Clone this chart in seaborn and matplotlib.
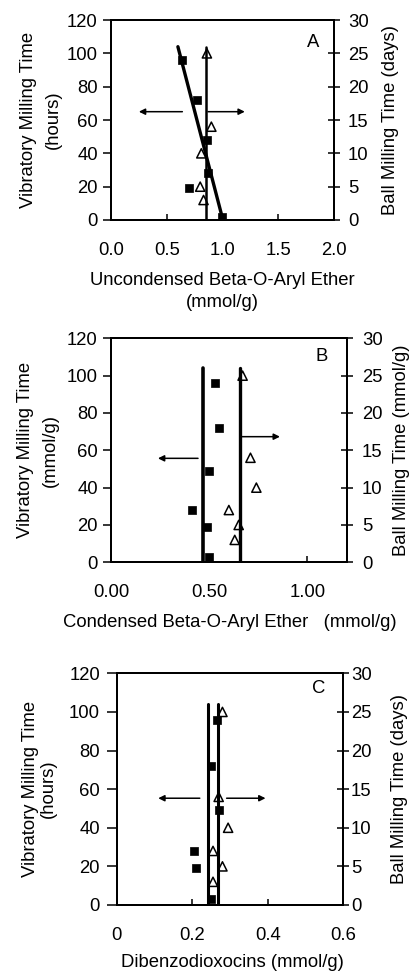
import numpy as np
import pandas as pd
import matplotlib
matplotlib.use("Agg")
import matplotlib.pyplot as plt
import seaborn as sns

sns.set_theme(style="white")
plt.rcParams['font.family'] = ['Liberation Sans', 'DejaVu Sans']

# ---------------- data ----------------
# Panel A: uncondensed beta-O-aryl ether
a_vib_x = [0.64, 0.77, 0.86, 0.87, 0.70, 1.00]
a_vib_hours = [96, 72, 48, 28, 19, 2]
a_ball_x = [0.86, 0.90, 0.81, 0.80, 0.83]
a_ball_days = [25, 14, 10, 5, 3]
a_vib_line_x = [0.60, 1.00]
a_vib_line_hours = [104, 1]
a_ball_line_x = [0.855, 0.855]
a_ball_line_hours = [0, 104]

# Panel B: condensed beta-O-aryl ether
b_vib_x = [0.53, 0.55, 0.50, 0.41, 0.49, 0.50]
b_vib_hours = [96, 72, 49, 28, 19, 3]
b_ball_x = [0.67, 0.71, 0.74, 0.60, 0.65, 0.63]
b_ball_days = [25, 14, 10, 7, 5, 3]
b_vib_line_x = [0.468, 0.468]
b_vib_line_hours = [0, 104]
b_ball_line_x = [0.659, 0.659]
b_ball_line_hours = [0, 104]

# Panel C: dibenzodioxocins
c_vib_x = [0.265, 0.25, 0.27, 0.205, 0.21, 0.25]
c_vib_hours = [96, 72, 49, 28, 19, 3]
c_ball_x = [0.28, 0.27, 0.295, 0.255, 0.28, 0.255]
c_ball_days = [25, 14, 10, 7, 5, 3]
c_vib_line_x = [0.243, 0.243]
c_vib_line_hours = [0, 104]
c_ball_line_x = [0.269, 0.269]
c_ball_line_hours = [0, 104]

hour_ticks = [0, 20, 40, 60, 80, 100, 120]
day_ticks = [0, 5, 10, 15, 20, 25, 30]
a_xticks = [0.0, 0.5, 1.0, 1.5, 2.0]
a_xticklabels = ["0.0", "0.5", "1.0", "1.5", "2.0"]
b_xticks = [0.0, 0.5, 1.0]
b_xticklabels = ["0.00", "0.50", "1.00"]
c_xticks = [0.0, 0.2, 0.4, 0.6]
c_xticklabels = ["0", "0.2", "0.4", "0.6"]

FS = 13.3

fig = plt.figure(figsize=(4.09, 9.73), dpi=100)

panels = [
    dict(pos=[0.2714, 0.7739, 0.5452, 0.2055], xlim=(0, 2.0),
         xticks=a_xticks, xtl=a_xticklabels,
         vx=a_vib_x, vh=a_vib_hours, bx=a_ball_x, bd=a_ball_days,
         vlx=a_vib_line_x, vlh=a_vib_line_hours, vlw=2.4,
         blx=a_ball_line_x, blh=a_ball_line_hours, blw=1.8,
         letter="A", letter_xy=(0.906, 0.89),
         ylabel="Vibratory Milling Time\n(hours)", yl_ls=1.6, yl_x=-0.222,
         ylabel2="Ball Milling Time (days)", yl2_x=1.215,
         xlabel="Uncondensed Beta-O-Aryl Ether\n(mmol/g)", xl_xy=(0.5, -0.26),
         ltick=5.5, lpad=4, rpad=6,
         arrows=[((0.64, 65), (0.25, 65)), ((0.87, 65), (1.2, 65))]),
    dict(pos=[0.2714, 0.4221, 0.5763, 0.2302], xlim=(0, 1.2),
         xticks=b_xticks, xtl=b_xticklabels,
         vx=b_vib_x, vh=b_vib_hours, bx=b_ball_x, bd=b_ball_days,
         vlx=b_vib_line_x, vlh=b_vib_line_hours, vlw=2.6,
         blx=b_ball_line_x, blh=b_ball_line_hours, blw=2.4,
         letter="B", letter_xy=(0.894, 0.918),
         ylabel="Vibratory Milling Time\n(mmol/g)", yl_ls=1.62, yl_x=-0.22,
         ylabel2="Ball Milling Time (mmol/g)", yl2_x=1.196,
         xlabel="Condensed Beta-O-Aryl Ether   (mmol/g)", xl_xy=(0.505, -0.233),
         ltick=5.5, lpad=4, rpad=7,
         arrows=[((0.443, 55.7), (0.239, 55.7)), ((0.66, 67.3), (0.86, 67.3))]),
    dict(pos=[0.2853, 0.0699, 0.5541, 0.2381], xlim=(0, 0.6),
         xticks=c_xticks, xtl=c_xticklabels,
         vx=c_vib_x, vh=c_vib_hours, bx=c_ball_x, bd=c_ball_days,
         vlx=c_vib_line_x, vlh=c_vib_line_hours, vlw=2.2,
         blx=c_ball_line_x, blh=c_ball_line_hours, blw=2.2,
         letter="C", letter_xy=(0.89, 0.935),
         ylabel="Vibratory Milling Time\n(hours)", yl_ls=1.04, yl_x=-0.265,
         ylabel2="Ball Milling Time (days)", yl2_x=1.21,
         xlabel="Dibenzodioxocins (mmol/g)", xl_xy=(0.511, -0.2115),
         ltick=7, lpad=5, rpad=1.5,
         arrows=[((0.22, 55.3), (0.11, 55.3)), ((0.291, 55.3), (0.394, 55.3))]),
]

for p in panels:
    ax = fig.add_axes(p["pos"])
    ax2 = ax.twinx()

    vib = pd.DataFrame({"x": p["vx"], "h": p["vh"]})
    ball = pd.DataFrame({"x": p["bx"], "d": p["bd"]})
    vline = pd.DataFrame({"x": p["vlx"], "h": p["vlh"]})
    bline = pd.DataFrame({"x": p["blx"], "h": p["blh"]})

    sns.lineplot(data=vline, x="x", y="h", ax=ax, color="black",
                 lw=p["vlw"], estimator=None, sort=False, legend=False)
    sns.lineplot(data=bline, x="x", y="h", ax=ax, color="black",
                 lw=p["blw"], estimator=None, sort=False, legend=False)
    sns.scatterplot(data=vib, x="x", y="h", ax=ax, marker="s", s=38,
                    color="black", edgecolor="black", linewidth=0.5,
                    zorder=4, legend=False)
    sns.scatterplot(data=ball, x="x", y="d", ax=ax2, marker="^", s=44,
                    facecolor="none", edgecolor="black", linewidth=1.1,
                    zorder=4, legend=False)

    for (x0, y0), (x1, y1) in p["arrows"]:
        ax.annotate("", xy=(x1, y1), xytext=(x0, y0),
                    arrowprops=dict(arrowstyle="-|>", color="black", lw=1.1,
                                    mutation_scale=9, shrinkA=0, shrinkB=0))

    ax.set_xlim(*p["xlim"])
    ax.set_ylim(0, 120)
    ax2.set_ylim(0, 30)
    ax.set_xticks(p["xticks"])
    ax.set_xticklabels(p["xtl"])
    ax.set_yticks(hour_ticks)
    ax2.set_yticks(day_ticks)

    for a in (ax, ax2):
        for s in a.spines.values():
            s.set_color("black")
            s.set_linewidth(1.4)
    ax.tick_params(axis="y", direction="out", length=p["ltick"], width=1.1,
                   labelsize=FS, pad=p["lpad"], colors="black", left=True)
    ax.tick_params(axis="x", direction="in", length=4.5, width=1.1,
                   labelsize=FS, pad=15.5, colors="black", bottom=True)
    ax2.tick_params(axis="y", direction="inout", length=8, width=1.1,
                    labelsize=FS, pad=p["rpad"], colors="black", right=True)

    ax.set_xlabel(p["xlabel"], fontsize=FS, color="black", linespacing=1.38)
    ax.xaxis.set_label_coords(*p["xl_xy"])
    ax.set_ylabel(p["ylabel"], fontsize=FS, color="black",
                  linespacing=p["yl_ls"])
    ax.yaxis.set_label_coords(p["yl_x"], 0.5)
    ax2.set_ylabel(p["ylabel2"], fontsize=FS, color="black")
    ax2.yaxis.set_label_coords(p["yl2_x"], 0.5)
    ax.text(p["letter_xy"][0], p["letter_xy"][1], p["letter"],
            transform=ax.transAxes, fontsize=FS, ha="center", va="center",
            color="black")

fig.savefig("out.png", dpi=100)
